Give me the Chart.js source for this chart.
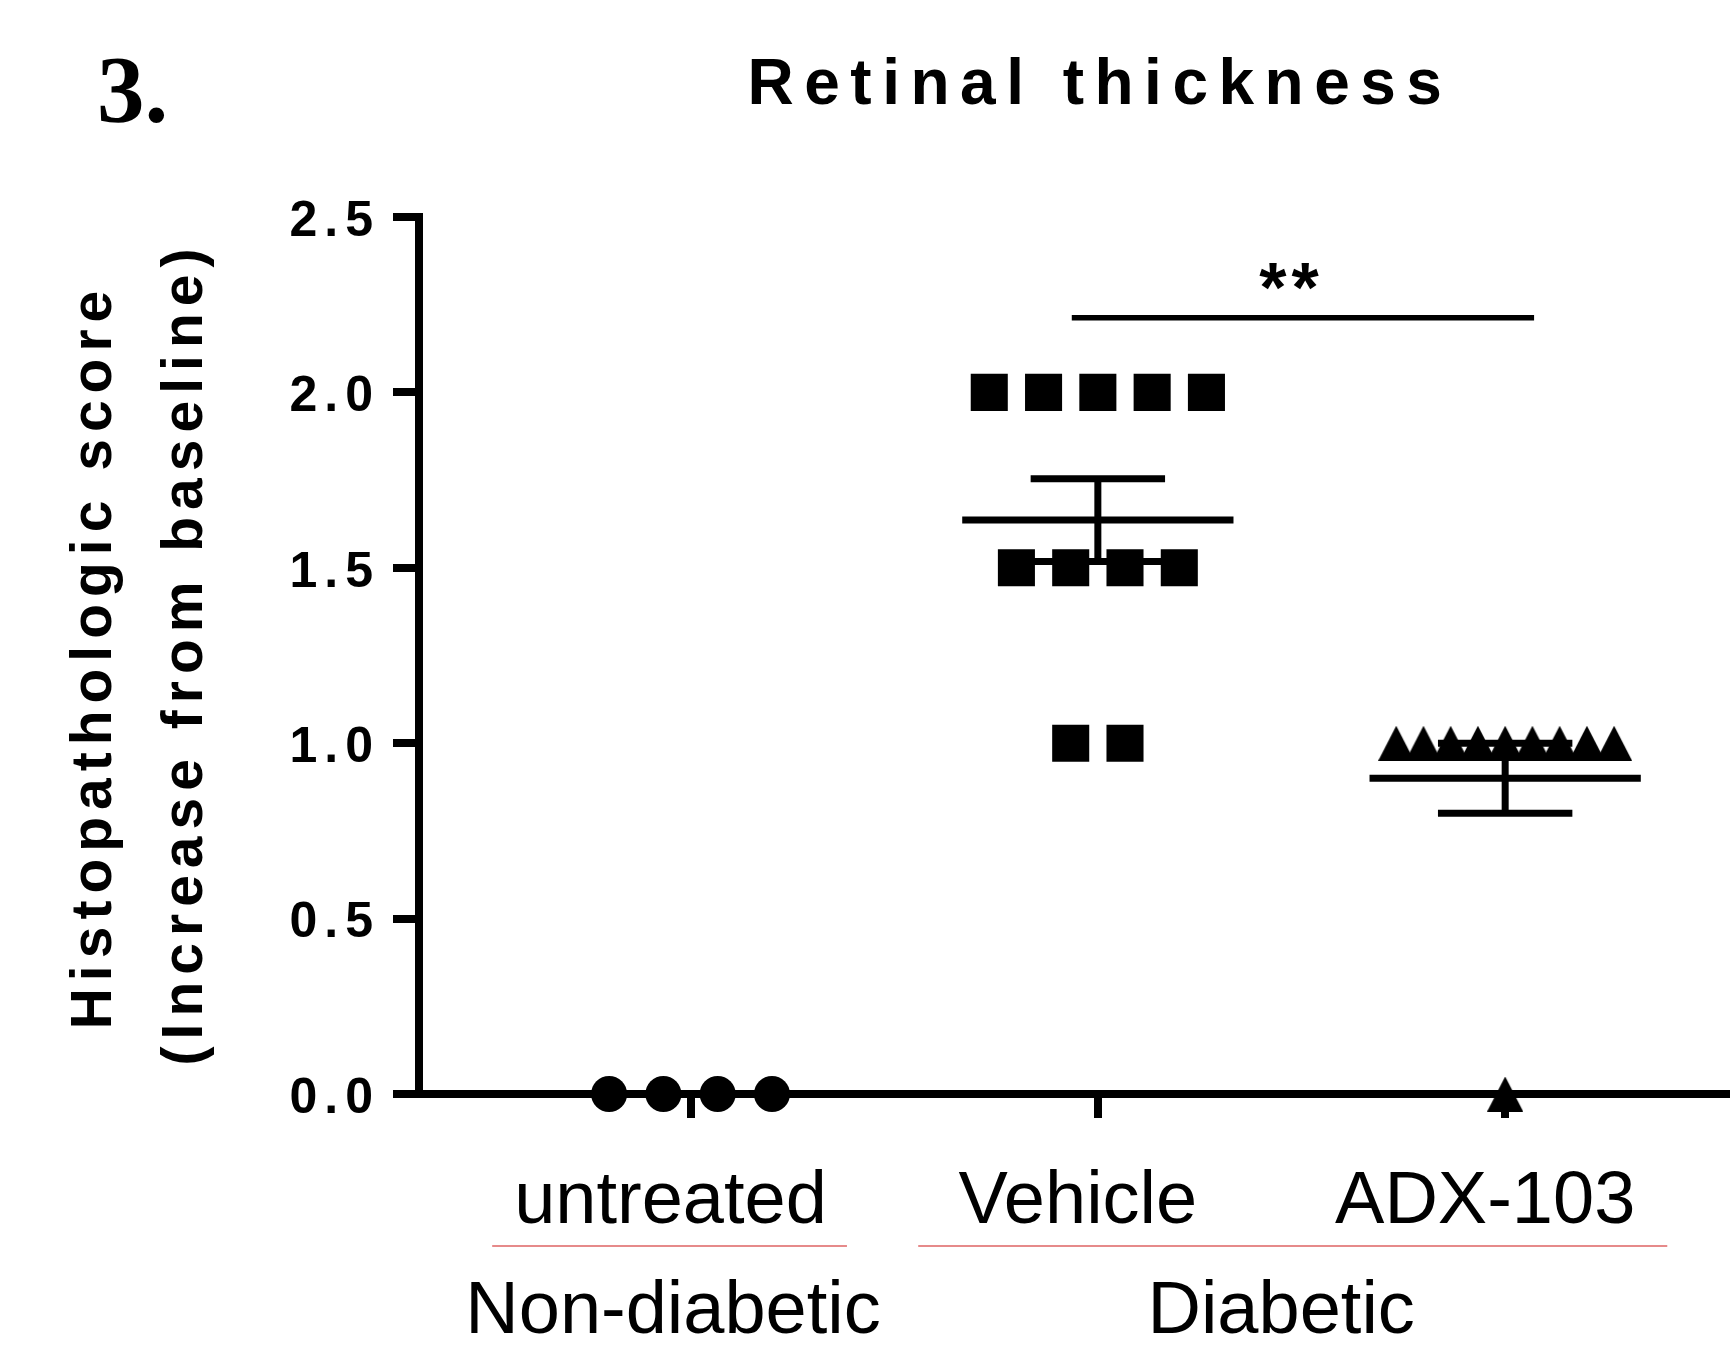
<!DOCTYPE html>
<html>
<head>
<meta charset="utf-8">
<script src="https://cdn.jsdelivr.net/npm/chart.js@4/dist/chart.umd.min.js"></script>
<style>
  body { margin: 0; background: #fff; }
  canvas { display: block; }
</style>
</head>
<body>
<canvas id="scoreChart" width="1730" height="1346"></canvas>
<script>
// --- data ---
const categories = ['untreated', 'Vehicle', 'ADX-103'];
const groups = ['Non-diabetic', 'Diabetic'];
const untreatedScores = [0, 0, 0, 0];
const vehicleScores = [2, 2, 2, 2, 2, 1.5, 1.5, 1.5, 1.5, 1, 1];
const adxScores = [1, 1, 1, 1, 1, 1, 1, 1, 1, 0];
const groupMeans = [0, 1.636, 0.90];
const groupSems = [0, 0.118, 0.10];
const yTicks = [0, 0.5, 1.0, 1.5, 2.0, 2.5];
const chartTitle = 'Retinal thickness';
const yTitle = ['Histopathologic score', '(Increase from baseline)'];
const significance = '**';

// --- layout (category units on x) ---
const POINT_GAP = 0.1333;
const MAX_SPREAD = 0.535;
const MEAN_HALF = 0.333;
const CAP_HALF = 0.165;
const sigBar = { from: 0.936, to: 2.071, y: 2.213 };
const groupLines = [[-0.487, 0.384], [0.559, 2.398]];
const groupCenters = [-0.043, 1.45];
const FONT = '"Liberation Sans", Arial, sans-serif';

// spread tied values side by side like a column scatter
function spread(values, center) {
    const counts = {};
    values.forEach(v => counts[v] = (counts[v] || 0) + 1);
    const seen = {};
    return values.map(v => {
        const n = counts[v];
        const gap = n > 1 ? Math.min(POINT_GAP, MAX_SPREAD / (n - 1)) : 0;
        seen[v] = seen[v] === undefined ? 0 : seen[v] + 1;
        return {x: center + (seen[v] - (n - 1) / 2) * gap, y: v};
    });
}

function errorBar(center, mean, sem) {
    return [
        {x: center - MEAN_HALF, y: mean}, {x: center + MEAN_HALF, y: mean}, {x: center, y: null},
        {x: center - CAP_HALF, y: mean + sem}, {x: center + CAP_HALF, y: mean + sem}, {x: center, y: null},
        {x: center - CAP_HALF, y: mean - sem}, {x: center + CAP_HALF, y: mean - sem}, {x: center, y: null},
        {x: center, y: mean - sem}, {x: center, y: mean + sem}
    ];
}

function triangleMarker(w, h) {
    const c = document.createElement('canvas');
    c.width = w;
    c.height = h;
    const g = c.getContext('2d');
    g.fillStyle = '#000';
    g.beginPath();
    g.moveTo(w / 2, 0);
    g.lineTo(w, h);
    g.lineTo(0, h);
    g.closePath();
    g.fill();
    return c;
}

const pointSets = [
    {data: spread(untreatedScores, 0), pointStyle: 'circle', pointRadius: 18},
    {data: spread(vehicleScores, 1), pointStyle: 'rect', pointRadius: 26.2},
    {data: spread(adxScores, 2), pointStyle: triangleMarker(36, 35), pointRadius: 18}
].map(d => Object.assign(d, {
    backgroundColor: '#000', borderColor: '#000', pointBorderWidth: 0, clip: false
}));

const barSets = groupMeans.map((m, i) => ({
    data: errorBar(i, m, groupSems[i]),
    showLine: true, spanGaps: false, pointRadius: 0,
    borderColor: '#000', borderWidth: 7, borderCapStyle: 'butt', clip: false
}));

const sigSet = {
    data: [{x: sigBar.from, y: sigBar.y}, {x: sigBar.to, y: sigBar.y}],
    showLine: true, pointRadius: 0, borderColor: '#000', borderWidth: 5.5,
    borderCapStyle: 'butt', clip: false
};

// y tick labels are letter-spaced, x labels are not (x labels drawn after datasets)
const spacingPlugin = {
    id: 'tickSpacing',
    beforeDraw(chart) { chart.ctx.letterSpacing = '7px'; },
    beforeDatasetsDraw(chart) { chart.ctx.letterSpacing = '0px'; }
};

const textPlugin = {
    id: 'figureText',
    afterDraw(chart) {
        const ctx = chart.ctx;
        const x = chart.scales.x;
        const y = chart.scales.y;
        ctx.save();
        ctx.fillStyle = '#000';
        ctx.textBaseline = 'alphabetic';

        ctx.letterSpacing = '0px';
        ctx.textAlign = 'left';
        ctx.font = 'bold 95px "Liberation Serif", "Times New Roman", serif';
        ctx.fillText('3.', 97, 122);

        ctx.letterSpacing = '10.5px';
        ctx.textAlign = 'center';
        ctx.font = 'bold 64px ' + FONT;
        ctx.fillText(chartTitle, 1100, 104);

        // y axis title, two rotated lines
        ctx.letterSpacing = '7px';
        ctx.font = 'bold 57px ' + FONT;
        [[111, 660], [202, 657]].forEach((p, i) => {
            ctx.save();
            ctx.translate(p[0], p[1]);
            ctx.rotate(-Math.PI / 2);
            ctx.fillText(yTitle[i], 3.5, 0);
            ctx.restore();
        });

        ctx.letterSpacing = '5px';
        ctx.font = 'bold 70px ' + FONT;
        ctx.fillText(significance, x.getPixelForValue(1.469) + 2.5, y.getPixelForValue(sigBar.y) - 6);

        // group separators and group names
        ctx.letterSpacing = '0px';
        ctx.strokeStyle = 'rgba(215, 70, 70, 0.85)';
        ctx.lineWidth = 1.5;
        groupLines.forEach(l => {
            ctx.beginPath();
            ctx.moveTo(x.getPixelForValue(l[0]), 1246);
            ctx.lineTo(x.getPixelForValue(l[1]), 1246);
            ctx.stroke();
        });
        ctx.font = '74px ' + FONT;
        groups.forEach((g, i) => ctx.fillText(g, x.getPixelForValue(groupCenters[i]), 1333));
        ctx.restore();
    }
};

new Chart(document.getElementById('scoreChart'), {
    type: 'scatter',
    data: {datasets: [...barSets, sigSet, ...pointSets]},
    options: {
        responsive: false,
        devicePixelRatio: 1,
        animation: false,
        events: [],
        layout: {autoPadding: false, padding: {top: 217, left: 0, right: 0, bottom: 0}},
        plugins: {legend: {display: false}, tooltip: {enabled: false}, title: {display: false}},
        scales: {
            x: {
                type: 'linear',
                min: -2 / 3,
                max: 2.552,
                afterBuildTicks: scale => { scale.ticks = categories.map((c, i) => ({value: i})); },
                afterFit: scale => { scale.height = 252; },
                grid: {drawOnChartArea: false, color: '#000', lineWidth: 8, tickLength: 24},
                border: {display: true, color: '#000', width: 8},
                ticks: {
                    z: 1, autoSkip: false, maxRotation: 0, padding: 40, labelOffset: -20,
                    color: '#000', font: {family: FONT, size: 74, lineHeight: 1.2},
                    callback: v => categories[v]
                }
            },
            y: {
                min: 0,
                max: 2.5,
                afterBuildTicks: scale => { scale.ticks = yTicks.map(v => ({value: v})); },
                afterFit: scale => { scale.width = 419; },
                grid: {drawOnChartArea: false, color: '#000', lineWidth: 8, tickLength: 26},
                border: {display: true, color: '#000', width: 8},
                ticks: {
                    padding: 13, labelOffset: 5, color: '#000',
                    font: {family: FONT, size: 50, weight: 'bold'},
                    callback: v => v.toFixed(1)
                }
            }
        }
    },
    plugins: [spacingPlugin, textPlugin]
});
</script>
</body>
</html>
